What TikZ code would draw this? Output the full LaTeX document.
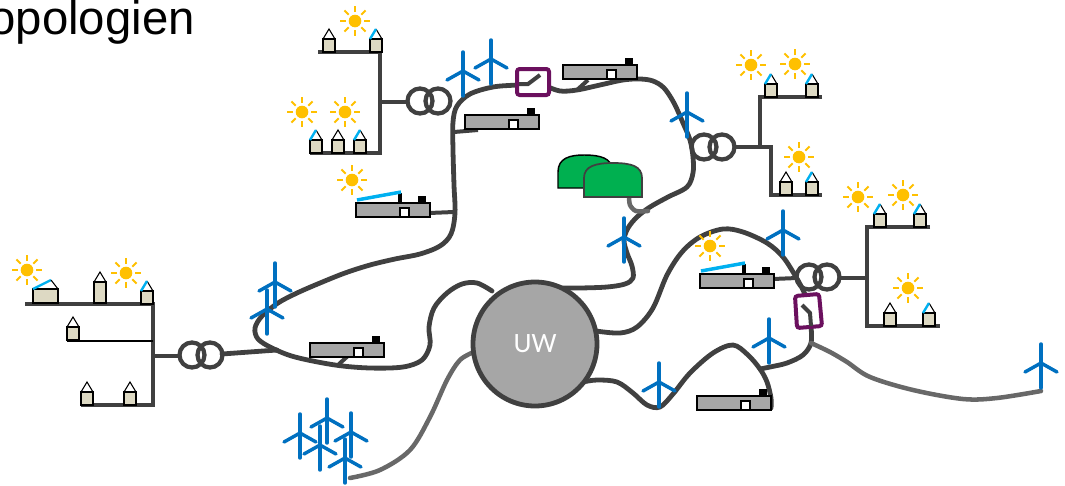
\documentclass[tikz,border=0pt]{standalone}
\usepackage{fontspec}
\setmainfont{Liberation Sans}
\newfontfamily\uwfont{Carlito}
\definecolor{cabledark}{RGB}{64,64,64}
\definecolor{cablelight}{RGB}{104,104,104}
\definecolor{turbineblue}{RGB}{0,112,192}
\definecolor{pvblue}{RGB}{0,176,240}
\definecolor{sunyellow}{RGB}{255,192,0}
\definecolor{housebeige}{RGB}{221,217,195}
\definecolor{storagegray}{RGB}{166,166,166}
\definecolor{biogreen}{RGB}{0,176,80}
\definecolor{switchpurple}{RGB}{107,16,94}
\tikzset{
  cable/.style={draw=cabledark,line width=3.6pt,line cap=round,line join=round},
  lightcable/.style={draw=cablelight,line width=3.4pt,line cap=round,line join=round},
  stub/.style={draw=cabledark,line width=3pt},
  feeder/.style={draw=cabledark,line width=2.4pt},
  turbineline/.style={draw=turbineblue,line width=2.6pt,line cap=round},
  sunray/.style={draw=sunyellow,line width=1.4pt},
  housebody/.style={draw=black,line width=1.1pt,fill=housebeige},
  roofline/.style={draw=black,line width=0.8pt},
  pvroof/.style={draw=pvblue,line width=1.8pt},
  storagebox/.style={draw=black,line width=1.1pt,fill=storagegray},
  pvpanel/.style={draw=pvblue,line width=2.6pt},
  switchbox/.style={draw=switchpurple,line width=3pt,rounded corners=2pt,fill=white},
  switchblade/.style={draw=cabledark,line width=3pt},
  turbine/.pic={
    \draw[turbineline] (0,-19) -- (0,25);
    \draw[turbineline] (0,0) -- (-16,9);
    \draw[turbineline] (0,0) -- (16,9);
  },
  sunicon/.pic={
    \fill[sunyellow] (0,0) circle (6.3);
    \foreach \a in {0,45,...,315}
      \draw[sunray] (\a:9) -- (\a:15);
  },
  house/.pic={
    \draw[housebody] (-6,-13) rectangle (6,0);
    \draw[roofline] (-6,-13) -- (0,-23) -- (6,-13);
  },
  pvhouse/.pic={
    \draw[housebody] (-6,-13) rectangle (6,0);
    \draw[roofline] (0,-23) -- (6,-13);
    \draw[pvroof] (-6,-13) -- (0,-23);
  },
  storage/.pic={
    \fill[black] (62,-7) rectangle (70,0);
    \draw[storagebox] (0,0) rectangle (74,14);
    \draw[black,line width=1.4pt,fill=white] (44,5) rectangle (53,14);
  },
  pvstorage/.pic={
    \fill[black] (62,-7) rectangle (70,0);
    \fill[black] (42,-10) rectangle (46,0);
    \draw[storagebox] (0,0) rectangle (74,14);
    \draw[black,line width=1.4pt,fill=white] (44,5) rectangle (53,14);
    \draw[pvpanel] (1,-3) -- (45,-11);
  },
  transformer/.pic={
    \draw[cabledark,line width=3.2pt] (-9,0) circle (12.5) (9,0) circle (12.5);
  }
}
\begin{document}
\begin{tikzpicture}[x=0.75pt,y=-0.75pt]
\useasboundingbox (0,0) rectangle (1065,486);

% heading, running off the left edge
\node[anchor=base east,inner sep=0pt,font=\fontsize{35.5}{35.5}\selectfont] (heading) at (195,34) {Topologien};

% ---------- medium-voltage cables ----------
% western loop
\draw[cable] plot[smooth,tension=0.55] coordinates {
  (528,84) (517,85) (493,87) (470,94) (457,106) (453,122) (453,150) (454,185)
  (455,213) (451,234) (440,246) (420,254) (395,259) (370,265) (345,273) (320,283)
  (297,293) (278,303) (262,316) (255,328) (258,339) (272,348) (295,357) (335,365)
  (370,368) (403,367) (422,360) (430,345) (429,327) (434,308) (447,293) (462,284)
  (477,283) (492,291)};
% northern loop
\draw[cable] plot[smooth,tension=0.55] coordinates {
  (546,86) (560,91) (577,90) (600,85) (623,80) (640,79) (653,81) (664,88) (674,103)
  (683,123) (690,140) (693,157) (693,173) (687,187) (668,197) (650,207) (637,217)
  (628,228) (624,240) (627,253) (632,266) (633,278) (625,284) (607,287) (580,288)
  (560,288)};
% eastern feeder up to the open switch
\draw[cable] plot[smooth,tension=0.55] coordinates {
  (596,331) (620,333) (637,327) (653,308) (667,275) (682,252) (700,237) (723,229)
  (743,232) (767,243) (783,257) (796,277) (803,290) (806,297)};
% from the switch down to the junction
\draw[cable] plot[smooth,tension=0.55] coordinates {
  (811,326) (811,343) (803,355) (787,363) (770,367) (760,369)};
% south-eastern feeder
\draw[cable] plot[smooth,tension=0.55] coordinates {
  (583,382) (597,380) (617,382) (633,393) (647,405) (660,407) (673,394) (690,373)
  (713,353) (733,345) (748,355) (760,369) (767,382) (771,398) (771,408)};
% line to the single turbine in the east
\draw[lightcable] plot[smooth,tension=0.55] coordinates {
  (811,343) (830,352) (847,362) (870,377) (913,390) (963,399) (997,398) (1041,391)};
% offshore cable
\draw[lightcable] plot[smooth,tension=0.55] coordinates {
  (350,478) (380,470) (410,450) (430,417) (447,380) (460,360) (474,352)};
% biogas connection
\draw[lightcable] plot[smooth,tension=0.5] coordinates {(629,196) (630,205) (636,211) (648,211)};

% transformer line west
\draw[cable] (222,354) -- (277,350);

% storage stubs
\draw[stub] (454,132) -- (478,130);
\draw[stub] (429,213) -- (454,212);
\draw[stub] (577,90) -- (588,80);
\draw[stub] (339,364) -- (349,355);
\draw[stub] (773,279) -- (797,278);

% ---------- storages ----------
\pic at (465,115) {storage};
\pic at (356,203) {pvstorage};
\pic at (563,65) {storage};
\pic at (310,343) {storage};
\pic at (700,274) {pvstorage};
\pic at (697,396) {storage};

% ---------- low-voltage grids ----------
% west
\draw[feeder] (25,304) -- (153,304) -- (153,405) -- (81,405);
\draw[black,line width=1.8pt] (67,341) -- (153,341);
\draw[feeder] (153,356) -- (180,356);
\pic at (201,355) {transformer};
\draw[housebody] (33,289) rectangle (58,303);
\draw[pvroof] (33,289) -- (51,280);
\draw[roofline] (51,280) -- (58,289);
\draw[housebody] (94,282) rectangle (106,303);
\draw[roofline] (94,282) -- (100,272) -- (106,282);
\pic at (147,304) {pvhouse};
\pic at (73,340) {house};
\pic at (87,405) {house};
\pic at (130,405) {house};
\pic at (27,270) {sunicon};
\pic at (126,273) {sunicon};

% north-west
\draw[feeder] (318,52) -- (380,52) -- (380,153) -- (310,153);
\draw[feeder] (380,102) -- (407,102);
\pic at (429,101) {transformer};
\pic at (329,52) {house};
\pic at (376,52) {pvhouse};
\pic at (316,153) {pvhouse};
\pic at (338,153) {house};
\pic at (360,153) {pvhouse};
\pic at (355,21) {sunicon};
\pic at (302,112) {sunicon};
\pic at (345,112) {sunicon};
\pic at (352,180) {sunicon};

% north-east
\pic at (713,147) {transformer};
\draw[feeder] (736,147) -- (760,147);
\draw[feeder] (822,97) -- (760,97) -- (760,147) -- (771,147) -- (771,195) -- (822,195);
\pic at (771,97) {pvhouse};
\pic at (812,97) {pvhouse};
\pic at (786,195) {house};
\pic at (812,195) {pvhouse};
\pic at (751,65) {sunicon};
\pic at (795,64) {sunicon};
\pic at (799,157) {sunicon};

% east
\pic at (818,277) {transformer};
\draw[feeder] (840,278) -- (867,278);
\draw[feeder] (930,227) -- (867,227) -- (867,326) -- (940,326);
\pic at (880,227) {pvhouse};
\pic at (920,227) {pvhouse};
\pic at (890,326) {house};
\pic at (929,326) {pvhouse};
\pic at (858,197) {sunicon};
\pic at (903,195) {sunicon};
\pic at (908,288) {sunicon};
\pic at (710,246) {sunicon};

% ---------- wind turbines ----------
\pic at (275,282) {turbine};
\pic at (267,309) {turbine};
\pic at (463,71) {turbine};
\pic at (491,59) {turbine};
\pic at (687,112) {turbine};
\pic at (624,237) {turbine};
\pic at (783,230) {turbine};
\pic at (769,338) {turbine};
\pic at (659,382) {turbine};
\pic at (1041,363) {turbine};
% offshore park
\pic at (300,433) {turbine};
\pic at (327,418) {turbine};
\pic at (351,432) {turbine};
\pic at (320,445) {turbine};
\pic at (345,458) {turbine};

% ---------- switches ----------
\draw[switchbox] (517,69) rectangle (549,95);
\draw[switchblade] (519,84) -- (528,84) -- (540,75);
\draw[switchbox] (795,296) -- (819,294) -- (822,326) -- (797,328) -- cycle;
\draw[switchblade] (802,305) -- (810,313) -- (811,326);

% ---------- biogas plant ----------
\draw[black,line width=1.1pt,fill=biogreen]
  (558,188) -- (558,172) .. controls (558,158) and (570,155) .. (584,155)
  .. controls (600,155) and (612,158) .. (612,170) -- (612,188) -- cycle;
\draw[cabledark,line width=1.3pt,fill=biogreen]
  (584,197) -- (584,178) .. controls (584,166) and (596,163) .. (613,163)
  .. controls (631,163) and (642,166) .. (642,178) -- (642,197) -- cycle;

% ---------- substation ----------
\node[circle,minimum size=124*0.75pt,fill=storagegray,draw=cabledark,line width=3.6pt,
      text=white,font=\uwfont\fontsize{21}{21}\selectfont] (uw) at (535,344) {UW};

\end{tikzpicture}
\end{document}
